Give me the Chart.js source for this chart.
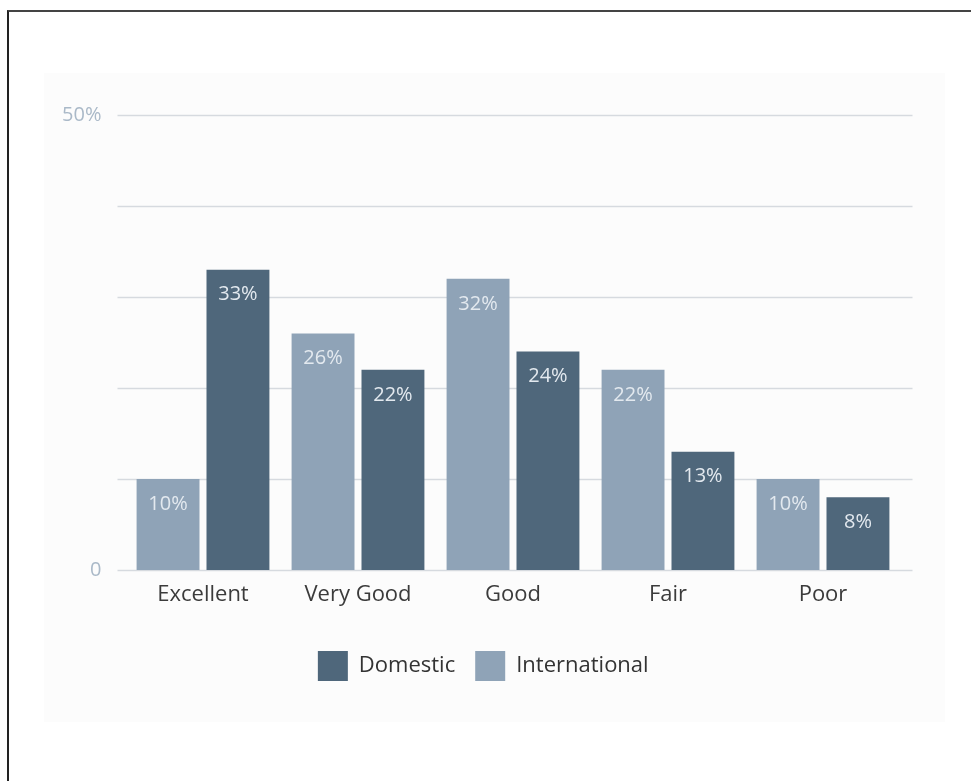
<!DOCTYPE html>
<html>
<head>
<meta charset="utf-8">
<title>Rating by traveller type</title>
<script src="https://cdn.jsdelivr.net/npm/chart.js@4.4.1/dist/chart.umd.min.js"></script>
<style>
  html, body { margin: 0; padding: 0; background: #fff; }
  body { width: 971px; height: 781px; position: relative; overflow: hidden; }
  .frame { position: absolute; left: 7px; top: 10px; right: 0; bottom: 0;
           border-left: 2px solid #222; border-top: 2px solid #444; }
  .panel { position: absolute; left: 44px; top: 73px; width: 901px; height: 649px; background: #fcfcfc; }
  #chart { position: absolute; left: 0; top: 0; }
</style>
</head>
<body>
<div class="frame"></div>
<div class="panel"></div>
<canvas id="chart" width="971" height="781"></canvas>
<script>
// Categorías y valores (%)
const categories = ['Excellent', 'Very Good', 'Good', 'Fair', 'Poor'];
const international = [10, 26, 32, 22, 10];
const domestic = [33, 22, 24, 13, 8];
const yTicks = [0, 10, 20, 30, 40, 50];

const colorDomestic = '#4f677b';
const colorInternational = '#8fa3b7';
const fontFamily = '"Open Sans", "Noto Sans", sans-serif';

// Líneas horizontales un poco más anchas que el área del gráfico
const gridPlugin = {
  id: 'wideGrid',
  beforeDatasetsDraw(chart) {
    const { ctx, chartArea, scales } = chart;
    ctx.save();
    ctx.strokeStyle = '#d6dadf';
    ctx.lineWidth = 1.5;
    scales.y.ticks.forEach(t => {
      const y = Math.round(scales.y.getPixelForValue(t.value)) + 0.5;
      ctx.beginPath();
      ctx.moveTo(chartArea.left - 8, y);
      ctx.lineTo(chartArea.right + 12, y);
      ctx.stroke();
    });
    ctx.restore();
  }
};

// Etiqueta del valor dentro de cada barra
const valueLabels = {
  id: 'valueLabels',
  afterDatasetsDraw(chart) {
    const { ctx } = chart;
    ctx.save();
    ctx.font = '20px ' + fontFamily;
    ctx.fillStyle = '#e3e9ef';
    ctx.textAlign = 'center';
    ctx.textBaseline = 'middle';
    chart.data.datasets.forEach((ds, i) => {
      chart.getDatasetMeta(i).data.forEach((bar, j) => {
        ctx.fillText(ds.data[j] + '%', bar.x, bar.y + 25);
      });
    });
    ctx.restore();
  }
};

// Desplaza la leyenda un poco a la derecha
const legendShift = {
  id: 'legendShift',
  afterLayout(chart) {
    chart.legend.left += 8;
    chart.legend.right += 8;
  }
};

new Chart(document.getElementById('chart'), {
  type: 'bar',
  data: {
    labels: categories,
    datasets: [
      { label: 'International', data: international, backgroundColor: colorInternational },
      { label: 'Domestic', data: domestic, backgroundColor: colorDomestic }
    ]
  },
  options: {
    responsive: false,
    animation: false,
    events: [],
    datasets: { bar: { categoryPercentage: 0.902, barPercentage: 0.9 } },
    layout: { padding: { top: 115, left: 50, right: 70.5, bottom: 90 } },
    scales: {
      x: {
        grid: { display: false, drawTicks: false },
        border: { display: false },
        ticks: { color: '#3b3b3b', font: { family: fontFamily, size: 22 }, padding: 12 },
        afterFit(s) { s.height = 61; }
      },
      y: {
        min: 0,
        max: 50,
        afterBuildTicks(s) { s.ticks = yTicks.map(v => ({ value: v })); },
        grid: { display: false, drawTicks: false },
        border: { display: false },
        ticks: {
          color: '#aab9c8',
          font: { family: fontFamily, size: 20 },
          padding: 24,
          callback: v => (v === 50 ? '50%' : v === 0 ? '0' : '')
        },
        afterFit(s) { s.width = 75.5; }
      }
    },
    plugins: {
      legend: {
        position: 'bottom',
        reverse: true,
        labels: {
          boxWidth: 30,
          boxHeight: 30,
          padding: 20,
          color: '#333',
          font: { family: fontFamily, size: 22 }
        }
      },
      tooltip: { enabled: false }
    }
  },
  plugins: [gridPlugin, valueLabels, legendShift]
});
</script>
</body>
</html>
